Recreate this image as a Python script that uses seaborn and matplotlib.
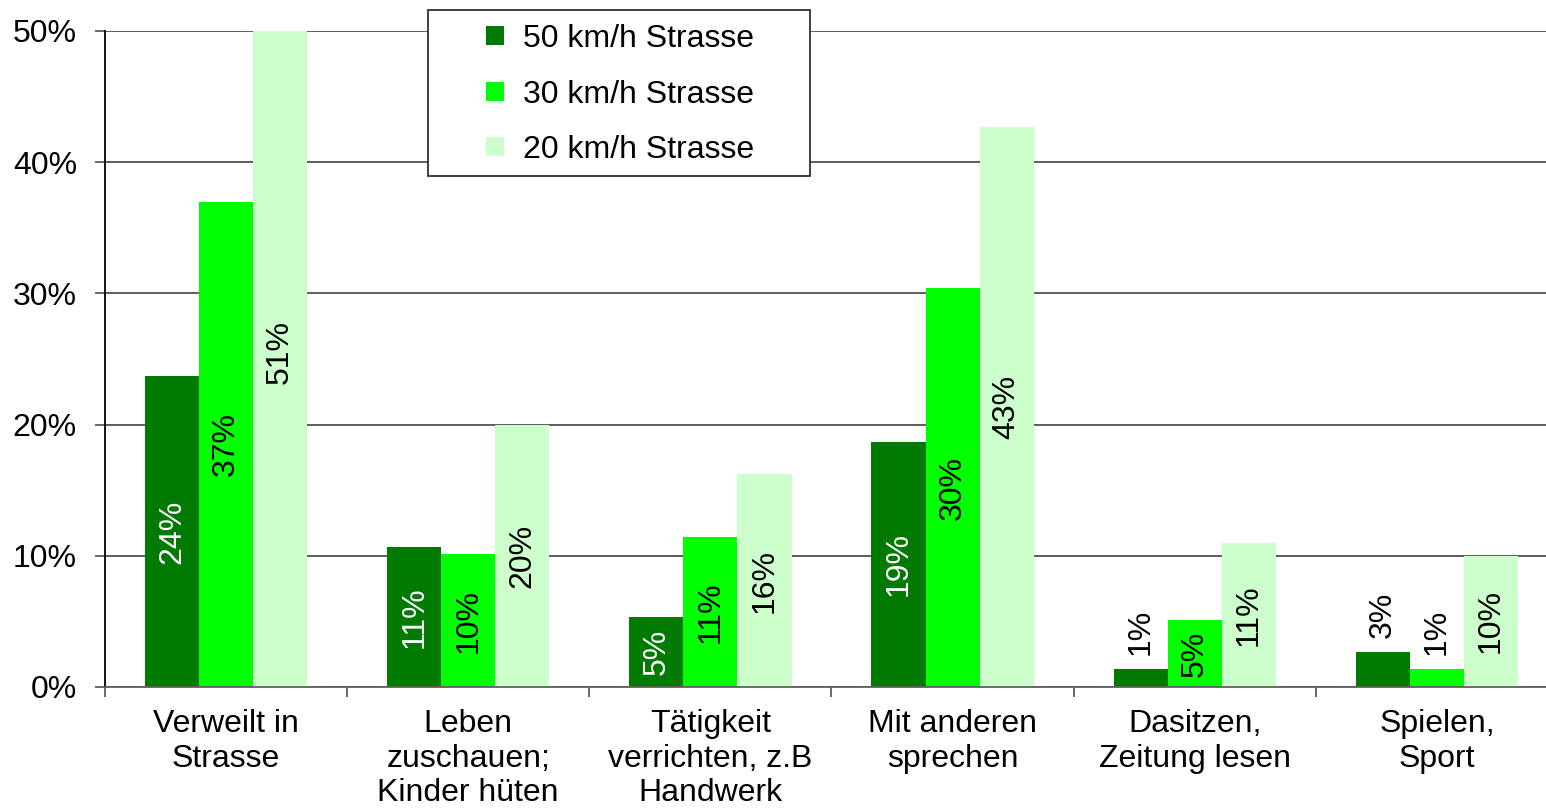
"""Activities on residential streets by speed limit - grouped bar chart."""

import matplotlib

matplotlib.use("Agg")
import matplotlib.pyplot as plt
import pandas as pd
import seaborn as sns
from matplotlib.patches import Rectangle
from matplotlib.ticker import FixedLocator, PercentFormatter

CATEGORIES = [
    "Verweilt in\nStrasse",
    "Leben\nzuschauen;\nKinder hüten",
    "Tätigkeit\nverrichten, z.B\nHandwerk",
    "Mit anderen\nsprechen",
    "Dasitzen,\nZeitung lesen",
    "Spielen,\nSport",
]
SERIES = ["50 km/h Strasse", "30 km/h Strasse", "20 km/h Strasse"]
VALUES_50 = [0.237, 0.107, 0.053, 0.187, 0.014, 0.027]
VALUES_30 = [0.370, 0.101, 0.114, 0.304, 0.051, 0.014]
VALUES_20 = [0.510, 0.200, 0.162, 0.427, 0.110, 0.100]

COLORS = {
    "50 km/h Strasse": "#007A00",
    "30 km/h Strasse": "#00FF00",
    "20 km/h Strasse": "#CCFFCC",
}
TEXT_COLORS = {
    "50 km/h Strasse": "white",
    "30 km/h Strasse": "black",
    "20 km/h Strasse": "black",
}

FONT_SIZE = 23
W, H, DPI = 1546, 811, 100

sns.set_style("white")
plt.rcParams["font.family"] = ["Liberation Sans", "DejaVu Sans"]
plt.rcParams["text.color"] = "black"
plt.rcParams["xtick.labelcolor"] = "black"
plt.rcParams["ytick.labelcolor"] = "black"

df = pd.DataFrame({
    "category": CATEGORIES * 3,
    "series": [s for s in SERIES for _ in CATEGORIES],
    "value": VALUES_50 + VALUES_30 + VALUES_20,
})

fig = plt.figure(figsize=(W / DPI, H / DPI), dpi=DPI)
# plot area runs slightly past the right edge of the picture, as in the original
ax = fig.add_axes([105 / W, 1 - 687 / H, 1453 / W, (687 - 31) / H])

sns.barplot(
    data=df, x="category", y="value", hue="series",
    order=CATEGORIES, hue_order=SERIES, palette=COLORS,
    width=0.67, saturation=1, errorbar=None, linewidth=0, ax=ax,
)

ax.set_ylim(0, 0.5)
ax.set_xlim(-0.5, len(CATEGORIES) - 0.5)
ax.yaxis.set_major_locator(FixedLocator([0, 0.1, 0.2, 0.3, 0.4, 0.5]))
ax.yaxis.set_major_formatter(PercentFormatter(1.0, decimals=0))
ax.set_xlabel("")
ax.set_ylabel("")

ax.set_axisbelow(True)
ax.grid(axis="y", color="#505050", linewidth=1.3)
ax.grid(False, axis="x")
for side in ["top", "right"]:
    ax.spines[side].set_visible(False)
ax.spines["left"].set_color("black")
ax.spines["left"].set_linewidth(1.3)
ax.spines["bottom"].set_color("#606060")
ax.spines["bottom"].set_linewidth(1.3)

ax.tick_params(axis="y", direction="out", length=7.2, width=1.2, color="#505050",
               pad=13, labelsize=FONT_SIZE, labelcolor="black", left=True)
ax.tick_params(axis="x", which="major", length=0, pad=16, labelsize=FONT_SIZE,
               labelcolor="black")
ax.set_xticks([i - 0.5 for i in range(len(CATEGORIES) + 1)], minor=True)
ax.tick_params(axis="x", which="minor", direction="out", length=7.2, width=1.2,
               color="#505050", bottom=True)

# value labels: centred in the bar, above it when the bar is too short
for container, name in zip(ax.containers, SERIES):
    for bar in container:
        h = bar.get_height()
        x = bar.get_x() + bar.get_width() / 2
        label = f"{h:.0%}"
        if h < 0.04:
            ax.annotate(label, (x, h), xytext=(0, 10), textcoords="offset points",
                        rotation=90, ha="center", va="bottom",
                        fontsize=FONT_SIZE, color="black")
        else:
            ax.text(x, h / 2, label, rotation=90, ha="center", va="center",
                    fontsize=FONT_SIZE, color=TEXT_COLORS[name])

handles, labels = ax.get_legend_handles_labels()
ax.get_legend().remove()

fig.patches.append(Rectangle(
    (428 / W, 1 - 176 / H), 382 / W, 166 / H, transform=fig.transFigure,
    facecolor="white", edgecolor="#303030", linewidth=1.3, zorder=4,
))
fig.legend(
    handles, labels, loc="upper left",
    bbox_to_anchor=(486 / W, 1 - 24 / H), bbox_transform=fig.transFigure,
    frameon=False, fontsize=FONT_SIZE, borderpad=0, borderaxespad=0,
    handlelength=0.55, handleheight=0.55, handletextpad=0.6, labelspacing=0.8,
)

fig.savefig("out.png", dpi=DPI)
